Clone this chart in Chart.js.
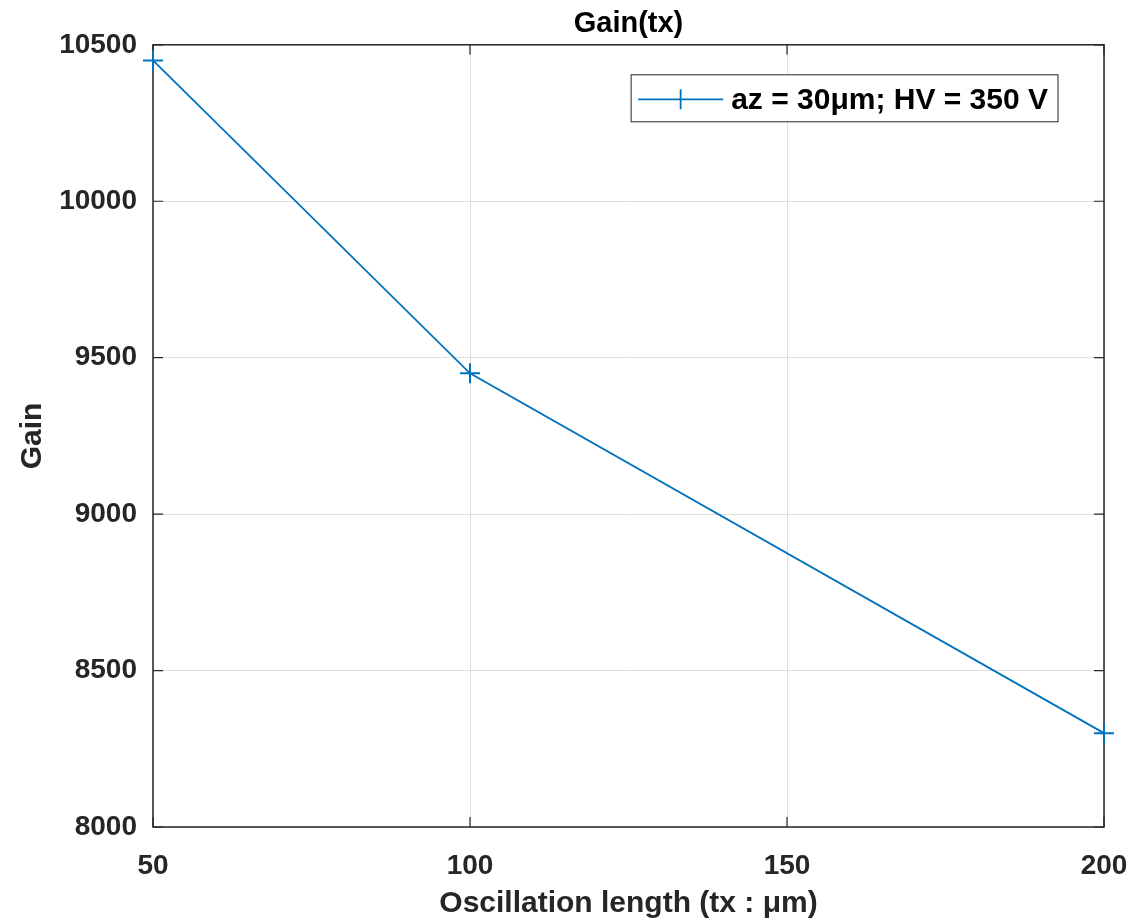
<!DOCTYPE html>
<html>
<head>
<meta charset="utf-8">
<title>Gain(tx)</title>
<script src="https://cdn.jsdelivr.net/npm/chart.js@4.4.1/dist/chart.umd.min.js"></script>
<style>
  html, body { margin: 0; padding: 0; background: #fff; }
  #wrap { width: 1133px; height: 922px; }
</style>
</head>
<body>
<div id="wrap"><canvas id="chart"></canvas></div>
<script>
// data
const oscillationLength = [50, 100, 200];
const gain = [10450, 9450, 8300];
const seriesLabel = "az = 30μm; HV = 350 V";
const xTicks = [50, 100, 150, 200];
const yTicks = [8000, 8500, 9000, 9500, 10000, 10500];

const FONT = '"Liberation Sans", Arial, Helvetica, sans-serif';
const AXIS_COLOR = "#262626";
const LINE_COLOR = "#0072BD";

// matlab style box with inward ticks
const boxPlugin = {
  id: "matlabBox",
  beforeDatasetsDraw(chart) {
    const { ctx, chartArea: a, scales } = chart;
    const len = 10;
    ctx.save();
    ctx.strokeStyle = AXIS_COLOR;
    ctx.lineWidth = 1.5;
    ctx.strokeRect(a.left, a.top, a.right - a.left, a.bottom - a.top);
    ctx.lineWidth = 1.2;
    ctx.beginPath();
    xTicks.forEach((v) => {
      const x = scales.x.getPixelForValue(v);
      ctx.moveTo(x, a.bottom); ctx.lineTo(x, a.bottom - len);
      ctx.moveTo(x, a.top); ctx.lineTo(x, a.top + len);
    });
    yTicks.forEach((v) => {
      const y = scales.y.getPixelForValue(v);
      ctx.moveTo(a.left, y); ctx.lineTo(a.left + len, y);
      ctx.moveTo(a.right, y); ctx.lineTo(a.right - len, y);
    });
    ctx.stroke();
    ctx.restore();
  },
};

// legend box inside the axes, top right
const legendPlugin = {
  id: "insideLegend",
  afterDraw(chart) {
    const { ctx, chartArea: a } = chart;
    const ds = chart.data.datasets[0];
    ctx.save();
    ctx.font = "bold 30px " + FONT;
    const tw = ctx.measureText(ds.label).width;
    const lineLen = 85;
    const w = 7 + lineLen + 8 + tw + 10;
    const h = 47;
    const right = a.right - 46;
    const top = a.top + 30;
    const left = right - w;
    ctx.fillStyle = "#fff";
    ctx.fillRect(left, top, w, h);
    ctx.strokeStyle = AXIS_COLOR;
    ctx.lineWidth = 1;
    ctx.strokeRect(left, top, w, h);
    const cy = top + h / 2 + 1;
    ctx.strokeStyle = LINE_COLOR;
    ctx.lineWidth = 1.8;
    ctx.beginPath();
    ctx.moveTo(left + 7, cy);
    ctx.lineTo(left + 7 + lineLen, cy);
    const mx = left + 7 + lineLen / 2;
    ctx.moveTo(mx, cy - 10);
    ctx.lineTo(mx, cy + 10);
    ctx.stroke();
    ctx.fillStyle = "#000";
    ctx.textBaseline = "middle";
    ctx.textAlign = "left";
    ctx.fillText(ds.label, left + 7 + lineLen + 8, cy + 1);
    ctx.restore();
  },
};

const ctx = document.getElementById("chart").getContext("2d");

new Chart(ctx, {
  type: "line",
  data: {
    datasets: [
      {
        label: seriesLabel,
        data: oscillationLength.map((x, i) => ({ x: x, y: gain[i] })),
        borderColor: LINE_COLOR,
        backgroundColor: LINE_COLOR,
        borderWidth: 1.8,
        pointStyle: "cross",
        pointRadius: 10,
        pointBorderWidth: 2,
        pointHoverRadius: 10,
        tension: 0,
        fill: false,
        clip: false,
      },
    ],
  },
  options: {
    responsive: true,
    maintainAspectRatio: false,
    animation: false,
    layout: {
      padding: { left: 0, right: 29, top: 0, bottom: 0 },
    },
    plugins: {
      legend: { display: false },
      tooltip: { enabled: false },
      title: {
        display: true,
        text: "Gain(tx)",
        fullSize: false,
        color: "#000",
        font: { family: FONT, size: 29, weight: "bold" },
        padding: { top: 7, bottom: 3 },
      },
    },
    scales: {
      x: {
        type: "linear",
        min: xTicks[0],
        max: xTicks[xTicks.length - 1],
        afterBuildTicks: (s) => { s.ticks = xTicks.map((v) => ({ value: v })); },
        afterFit: (s) => {
          s.height = 95;
          s.paddingLeft = 0;
          s.paddingRight = 0;
        },
        border: { display: false },
        grid: { color: "#dfdfdf", lineWidth: 1, drawTicks: false },
        ticks: {
          padding: 22,
          color: AXIS_COLOR,
          maxRotation: 0,
          font: { family: FONT, size: 28, weight: "bold" },
        },
        title: {
          display: true,
          text: "Oscillation length (tx : μm)",
          color: AXIS_COLOR,
          font: { family: FONT, size: 30, weight: "bold" },
          padding: { top: 0, bottom: 0 },
        },
      },
      y: {
        type: "linear",
        min: yTicks[0],
        max: yTicks[yTicks.length - 1],
        afterBuildTicks: (s) => { s.ticks = yTicks.map((v) => ({ value: v })); },
        afterFit: (s) => {
          s.width = 153;
          s.paddingTop = 0;
          s.paddingBottom = 0;
        },
        border: { display: false },
        grid: { color: "#dfdfdf", lineWidth: 1, drawTicks: false },
        ticks: {
          padding: 16,
          color: AXIS_COLOR,
          font: { family: FONT, size: 28, weight: "bold" },
          callback: (v) => String(v),
        },
        title: {
          display: true,
          text: "Gain",
          color: AXIS_COLOR,
          font: { family: FONT, size: 30, weight: "bold" },
          padding: { top: 15, bottom: 0 },
        },
      },
    },
  },
  plugins: [boxPlugin, legendPlugin],
});
</script>
</body>
</html>
